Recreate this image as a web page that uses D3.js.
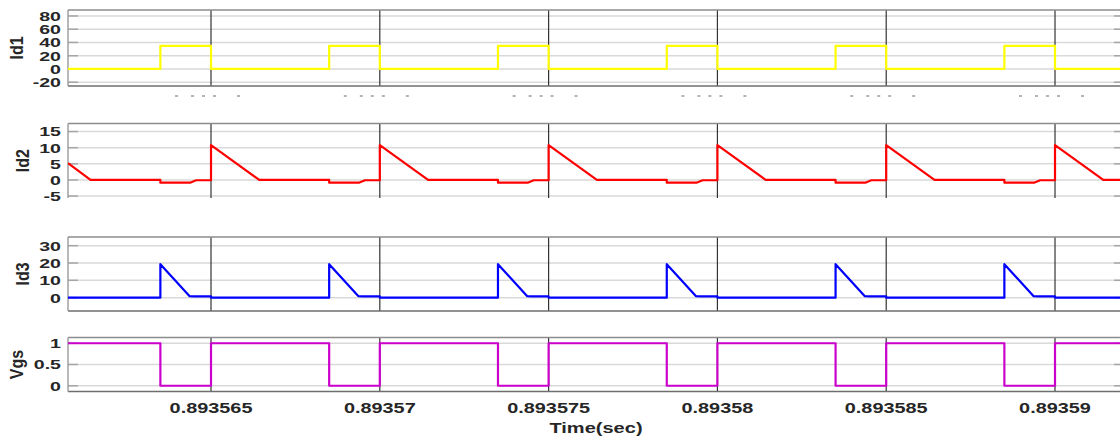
<!DOCTYPE html>
<html>
<head>
<meta charset="utf-8">
<script src="https://cdn.jsdelivr.net/npm/d3@7"></script>
<style>
  body { margin: 0; background: #fff; }
  svg { display: block; }
  text { font-family: "Liberation Sans", Arial, Helvetica, sans-serif; font-weight: bold; fill: #262626; }
</style>
</head>
<body>
<svg id="chart" width="1120" height="436"></svg>
<script>
// Time is stored in microseconds after this instant (seconds).
const timeOrigin = 0.89356;
const timeSpan = [0.764, 31.925];

const xTickValues = [5, 10, 15, 20, 25, 30];
const xTickLabels = ["0.893565", "0.89357", "0.893575", "0.89358", "0.893585", "0.89359"];
const xTitle = "Time(sec)";

// Gate drive (step signal, value holds until the next time)
const vgs = [
  [0.764, 1], [3.5, 0], [5, 1], [8.5, 0], [10, 1], [13.5, 0], [15, 1],
  [18.5, 0], [20, 1], [23.5, 0], [25, 1], [28.5, 0], [30, 1], [31.925, 1]
];

// Diode 1 current (step signal)
const id1 = [
  [0.764, 0], [3.5, 35], [5, 0], [8.5, 35], [10, 0], [13.5, 35], [15, 0],
  [18.5, 35], [20, 0], [23.5, 35], [25, 0], [28.5, 35], [30, 0], [31.925, 0]
];

// Diode 2 current (piecewise linear)
const id2 = [
  [0.764, 5.2], [1.43, 0],
  [3.5, 0], [3.5, -0.85], [4.38, -0.85], [4.56, -0.1], [5, -0.1], [5, 10.8], [6.43, 0],
  [8.5, 0], [8.5, -0.85], [9.38, -0.85], [9.56, -0.1], [10, -0.1], [10, 10.8], [11.43, 0],
  [13.5, 0], [13.5, -0.85], [14.38, -0.85], [14.56, -0.1], [15, -0.1], [15, 10.8], [16.43, 0],
  [18.5, 0], [18.5, -0.85], [19.38, -0.85], [19.56, -0.1], [20, -0.1], [20, 10.8], [21.43, 0],
  [23.5, 0], [23.5, -0.85], [24.38, -0.85], [24.56, -0.1], [25, -0.1], [25, 10.8], [26.43, 0],
  [28.5, 0], [28.5, -0.85], [29.38, -0.85], [29.56, -0.1], [30, -0.1], [30, 10.8], [31.43, 0],
  [31.925, 0]
];

// Diode 3 current (piecewise linear)
const id3 = [
  [0.764, 0],
  [3.5, 0], [3.5, 19.3], [4.36, 0.9], [4.5, 0.7], [5, 0.7], [5, 0],
  [8.5, 0], [8.5, 19.3], [9.36, 0.9], [9.5, 0.7], [10, 0.7], [10, 0],
  [13.5, 0], [13.5, 19.3], [14.36, 0.9], [14.5, 0.7], [15, 0.7], [15, 0],
  [18.5, 0], [18.5, 19.3], [19.36, 0.9], [19.5, 0.7], [20, 0.7], [20, 0],
  [23.5, 0], [23.5, 19.3], [24.36, 0.9], [24.5, 0.7], [25, 0.7], [25, 0],
  [28.5, 0], [28.5, 19.3], [29.36, 0.9], [29.5, 0.7], [30, 0.7], [30, 0],
  [31.925, 0]
];

const id1Ticks = [-20, 0, 20, 40, 60, 80];
const id2Ticks = [-5, 0, 5, 10, 15];
const id3Ticks = [0, 10, 20, 30];
const vgsTicks = [0, 0.5, 1];

const svg = d3.select("#chart");
const left = 68, right = 1120;

const x = d3.scaleLinear().domain(timeSpan).range([left, right]);

const panels = [
  { name: "Id1", data: id1, ticks: id1Ticks, color: "#ffff00", domain: [-25.7, 89], top: 10, bottom: 86,
    curve: d3.curveStepAfter, titleX: 23, bottomBorder: true },
  { name: "Id2", data: id2, ticks: id2Ticks, color: "#ff0000", domain: [-5.6, 17.5], top: 123.5, bottom: 198,
    curve: d3.curveLinear, titleX: 29, bottomBorder: false },
  { name: "Id3", data: id3, ticks: id3Ticks, color: "#0000ff", domain: [-7.7, 35], top: 237, bottom: 311,
    curve: d3.curveLinear, titleX: 29, bottomBorder: true },
  { name: "Vgs", data: vgs, ticks: vgsTicks, color: "#cc00cc", domain: [-0.135, 1.135], top: 337.5, bottom: 391.5,
    curve: d3.curveStepAfter, titleX: 23, bottomBorder: true }
];

panels.forEach((p, i) => {
  const y = d3.scaleLinear().domain(p.domain).range([p.bottom, p.top]);
  const g = svg.append("g");

  // horizontal grid lines with short inward tick marks on both sides
  g.selectAll("line.hgrid").data(p.ticks).join("line")
    .attr("x1", left).attr("x2", right)
    .attr("y1", d => y(d)).attr("y2", d => y(d))
    .attr("stroke", "#d9d9d9").attr("stroke-width", 1.5);
  g.selectAll("line.ltick").data(p.ticks).join("line")
    .attr("x1", left).attr("x2", left + 10)
    .attr("y1", d => y(d)).attr("y2", d => y(d))
    .attr("stroke", "#a6a6a6").attr("stroke-width", 1.5);
  g.selectAll("line.rtick").data(p.ticks).join("line")
    .attr("x1", right - 6).attr("x2", right)
    .attr("y1", d => y(d)).attr("y2", d => y(d))
    .attr("stroke", "#a6a6a6").attr("stroke-width", 1.5);

  // vertical grid lines at the time ticks
  g.selectAll("line.vgrid").data(xTickValues).join("line")
    .attr("x1", d => x(d)).attr("x2", d => x(d))
    .attr("y1", p.top).attr("y2", p.bottom)
    .attr("stroke", "#333").attr("stroke-width", 1.2);

  // axes frame
  g.append("line").attr("x1", left).attr("x2", right).attr("y1", p.top).attr("y2", p.top)
    .attr("stroke", "#8c8c8c").attr("stroke-width", 1.6);
  if (p.bottomBorder) {
    g.append("line").attr("x1", left).attr("x2", right).attr("y1", p.bottom).attr("y2", p.bottom)
      .attr("stroke", "#6e6e6e").attr("stroke-width", 1.6);
  }
  g.append("line").attr("x1", left).attr("x2", left).attr("y1", p.top).attr("y2", p.bottom)
    .attr("stroke", "#9a9a9a").attr("stroke-width", 1.4);

  // signal trace
  const clipId = "clip" + i;
  svg.append("clipPath").attr("id", clipId).append("rect")
    .attr("x", left).attr("y", p.top - 2).attr("width", right - left).attr("height", p.bottom - p.top + 4);
  const line = d3.line().x(d => x(d[0])).y(d => y(d[1])).curve(p.curve);
  g.append("path").datum(p.data)
    .attr("clip-path", `url(#${clipId})`)
    .attr("d", line)
    .attr("fill", "none")
    .attr("stroke", p.color)
    .attr("stroke-width", 2.2)
    .attr("stroke-linejoin", "round");

  // y tick labels
  g.selectAll("text.ytick").data(p.ticks).join("text")
    .attr("transform", d => `translate(61,${y(d)}) scale(1.45,1)`)
    .attr("text-anchor", "end")
    .attr("dy", "0.36em")
    .style("font-size", "13.5px")
    .text(d => String(d));

  // y axis title
  g.append("text")
    .attr("transform", `translate(${p.titleX},${(p.top + p.bottom) / 2}) rotate(-90) scale(1,1.15)`)
    .attr("text-anchor", "middle")
    .style("font-size", "16px")
    .text(p.name);
});

// faint clipped tick-label marks under the first panel
const markGroup = svg.append("g");
xTickValues.forEach(v => {
  [-35, -19, -8, 3, 27].forEach(o => {
    markGroup.append("rect")
      .attr("x", x(v) + o - 1).attr("y", 95).attr("width", 3).attr("height", 2)
      .attr("fill", "#b4b4b4");
  });
});

// time axis labels
svg.selectAll("text.xtick").data(xTickValues).join("text")
  .attr("transform", (d, i) => `translate(${x(d)},413) scale(1.29,1)`)
  .attr("text-anchor", "middle")
  .style("font-size", "15.4px")
  .text((d, i) => xTickLabels[i]);

svg.append("text")
  .attr("transform", `translate(596,433) scale(1.3,1)`)
  .attr("text-anchor", "middle")
  .style("font-size", "15.4px")
  .text(xTitle);
</script>
</body>
</html>
